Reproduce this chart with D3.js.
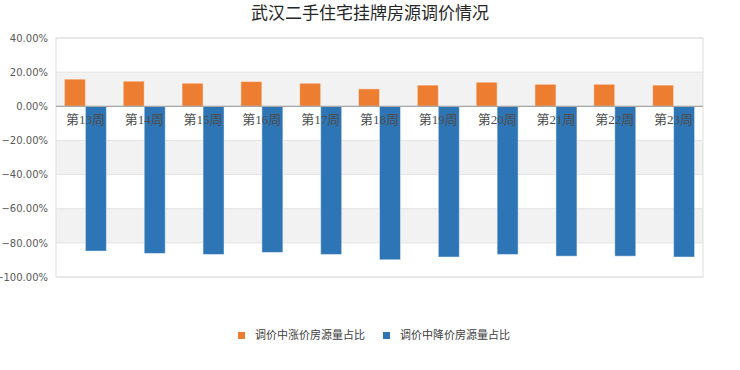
<!DOCTYPE html>
<html>
<head>
<meta charset="utf-8">
<script src="https://cdn.jsdelivr.net/npm/d3@7"></script>
<style>
  body { margin: 0; background: #fff; }
  svg { display: block; }
</style>
</head>
<body>
<svg id="chart" width="740" height="370"></svg>
<script>
// data
var weeks = ["第13周","第14周","第15周","第16周","第17周","第18周","第19周","第20周","第21周","第22周","第23周"];
var riseShare = [0.159, 0.147, 0.135, 0.145, 0.135, 0.102, 0.124, 0.141, 0.129, 0.129, 0.124];
var fallShare = [-0.848, -0.862, -0.868, -0.856, -0.868, -0.899, -0.883, -0.868, -0.878, -0.878, -0.883];
var keys = ["调价中涨价房源量占比", "调价中降价房源量占比"];
var yTicks = [0.4, 0.2, 0, -0.2, -0.4, -0.6, -0.8, -1.0];

var colours = ["#ED7D31", "#2E75B6"];

var svg = d3.select("#chart");
// plot area (note: "top" is reserved on window, so prefix these)
var plotL = 56, plotR = 703, plotT = 38, plotB = 277;

var x0 = d3.scaleBand()
    .domain(weeks)
    .range([plotL, plotR])
    .paddingInner(0.286)
    .paddingOuter(0.143);

var x1 = d3.scaleBand()
    .domain(keys)
    .range([0, x0.bandwidth()]);

var y = d3.scaleLinear()
    .domain([-1, 0.4])
    .range([plotB, plotT]);

var color = d3.scaleOrdinal().domain(keys).range(colours);

// title
svg.append("text")
    .attr("x", 370)
    .attr("y", 19)
    .attr("text-anchor", "middle")
    .style("font-family", "'Noto Sans CJK SC', sans-serif")
    .style("font-size", "17px")
    .style("fill", "#262626")
    .text("武汉二手住宅挂牌房源调价情况");

// alternating bands (gray between 20..0, -20..-40, -60..-80)
var bands = d3.range(yTicks.length - 1).map(function(i){ return [yTicks[i], yTicks[i+1]]; });
svg.selectAll("rect.band")
    .data(bands)
    .enter()
    .append("rect")
        .attr("class", "band")
        .attr("x", plotL)
        .attr("width", plotR - plotL)
        .attr("y", function(d){ return y(d[0]); })
        .attr("height", function(d){ return y(d[1]) - y(d[0]); })
        .style("fill", function(d,i){ return i % 2 == 1 ? "#f2f2f2" : "#fff"; });

// gridlines
svg.selectAll("line.grid")
    .data(yTicks)
    .enter()
    .append("line")
        .attr("x1", plotL)
        .attr("x2", plotR)
        .attr("y1", function(d){ return y(d); })
        .attr("y2", function(d){ return y(d); })
        .style("stroke", "#e3e3e3")
        .style("stroke-width", 1);

// plot border
svg.append("rect")
    .attr("x", plotL)
    .attr("y", plotT)
    .attr("width", plotR - plotL)
    .attr("height", plotB - plotT)
    .style("fill", "none")
    .style("stroke", "#dedede");

// y axis labels
var yAxis = d3.axisLeft(y)
    .tickValues(yTicks)
    .tickFormat(d3.format(".2%"))
    .tickSize(0)
    .tickPadding(8);
var ya = svg.append("g")
    .attr("transform", "translate(" + plotL + ",0)")
    .call(yAxis);
ya.select(".domain").remove();
ya.selectAll("text")
    .style("font-family", "'DejaVu Sans', sans-serif")
    .style("font-size", "10px")
    .style("fill", "#595959");

// bars
var series = [riseShare, fallShare];
var groups = svg.selectAll("g.week")
    .data(weeks)
    .enter()
    .append("g")
        .attr("class", "week")
        .attr("transform", function(d){ return "translate(" + x0(d) + ",0)"; });

groups.selectAll("rect")
    .data(function(d,i){ return keys.map(function(k,j){ return {key: k, value: series[j][i]}; }); })
    .enter()
    .append("rect")
        .attr("x", function(d){ return x1(d.key); })
        .attr("width", x1.bandwidth())
        .attr("y", function(d){ return y(Math.max(0, d.value)); })
        .attr("height", function(d){ return Math.abs(y(d.value) - y(0)); })
        .style("fill", function(d){ return color(d.key); })
        .style("stroke", "rgba(255,255,255,0.45)")
        .style("stroke-width", 1);

// zero line
svg.append("line")
    .attr("x1", plotL)
    .attr("x2", plotR)
    .attr("y1", y(0))
    .attr("y2", y(0))
    .style("stroke", "#a6a6a6")
    .style("stroke-width", 1.2);

// category labels, drawn over the bars just under zero
var xAxis = d3.axisBottom(x0).tickSize(0).tickPadding(8);
var xa = svg.append("g")
    .attr("transform", "translate(0," + y(0) + ")")
    .call(xAxis);
xa.select(".domain").remove();
xa.selectAll("text")
    .style("font-family", "'Liberation Serif', 'Noto Sans CJK SC', serif")
    .style("font-size", "13px")
    .style("fill", "#4d4d4d");

// legend
var legend = svg.append("g");
var legendX = [238, 383];
legend.selectAll("rect")
    .data(keys)
    .enter()
    .append("rect")
        .attr("x", function(d,i){ return legendX[i]; })
        .attr("y", 332)
        .attr("width", 7)
        .attr("height", 7)
        .style("fill", function(d){ return color(d); });

legend.selectAll("text")
    .data(keys)
    .enter()
    .append("text")
        .attr("x", function(d,i){ return legendX[i] + 17; })
        .attr("y", 336)
        .style("dominant-baseline", "middle")
        .style("font-family", "'Noto Sans CJK SC', sans-serif")
        .style("font-size", "11px")
        .style("fill", "#404040")
        .text(function(d){ return d; });
</script>
</body>
</html>
